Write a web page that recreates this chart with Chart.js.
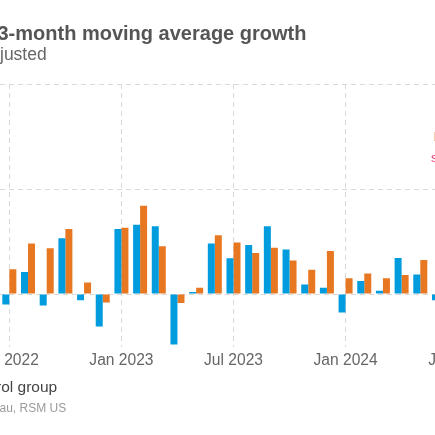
<!DOCTYPE html>
<html><head><meta charset="utf-8">
<script src="https://cdn.jsdelivr.net/npm/chart.js@4.4.1/dist/chart.umd.min.js"></script>
<style>
html,body{margin:0;padding:0;background:#fff;overflow:hidden;width:435px;height:435px;}
#wrap{position:absolute;left:-150px;top:0;width:650px;height:435px;}
</style></head><body>
<div id="wrap"><canvas id="c"></canvas></div>
<script>
const months = ['Jul 2022','Aug 2022','Sep 2022','Oct 2022','Nov 2022','Dec 2022',
  'Jan 2023','Feb 2023','Mar 2023','Apr 2023','May 2023','Jun 2023',
  'Jul 2023','Aug 2023','Sep 2023','Oct 2023','Nov 2023','Dec 2023',
  'Jan 2024','Feb 2024','Mar 2024','Apr 2024','May 2024','Jun 2024','Jul 2024'];
const retailSales = [-0.10, 0.21, -0.11, 0.53, -0.06, -0.31,
  0.62, 0.66, 0.645, -0.48, 0.02, 0.48,
  0.34, 0.467, 0.645, 0.425, 0.09, 0.06,
  -0.175, 0.124, 0.03, 0.343, 0.185, -0.06, null];
const controlGroup = [0.235, 0.48, 0.435, 0.62, 0.11, -0.08,
  0.63, 0.84, 0.455, -0.086, 0.06, 0.56,
  0.49, 0.39, 0.44, 0.32, 0.23, 0.41,
  0.15, 0.195, 0.15, 0.18, 0.325, 0.12, null];
const yTicks = [-0.5, 0, 1, 2];
const seriesNames = ['Retail sales', 'Control group'];
const seriesColors = ['#009CDE', '#E87722'];
const titleText = 'Retail sales: 3-month moving average growth';
const subtitleText = 'Seasonally adjusted';
const sourceText = 'Source: Census Bureau, RSM US';

const FONT = '"Liberation Sans", Arial, sans-serif';
const GRID = '#d9d9d9';

const decor = {
  id: 'decor',
  afterDraw(chart) {
    const ctx = chart.ctx;
    const L = chart.chartArea.left;
    ctx.save();
    ctx.textBaseline = 'alphabetic';
    ctx.textAlign = 'left';
    const txt = (str, visible, x, y, font, color) => {
      ctx.font = font; ctx.fillStyle = color;
      const cut = str.indexOf(visible);
      const w = ctx.measureText(str.slice(0, cut)).width;
      ctx.fillText(str, L + x - w, y);
    };
    txt(titleText, '3-month', -2.5, 40, 'bold 20px ' + FONT, '#555555');
    txt(subtitleText, 'justed', 0, 60, '17.5px ' + FONT, '#666666');
    txt(sourceText, 'au, RSM', -0.5, 412, '12px ' + FONT, '#9a9a9a');
    // legend (symbols sit left of the visible window)
    ctx.font = '15.5px ' + FONT;
    const ds = chart.data.datasets;
    const last = ds[ds.length - 1].label;
    let textX = L - 4 - ctx.measureText(last.slice(0, last.indexOf('rol'))).width;
    for (let i = ds.length - 1; i >= 0; i--) {
      ctx.fillStyle = '#444444';
      ctx.fillText(ds[i].label, textX, 392);
      ctx.fillStyle = ds[i].backgroundColor;
      ctx.fillRect(textX - 18, 380, 12, 12);
      if (i > 0) textX = textX - 40 - ctx.measureText(ds[i - 1].label).width;
    }
    // right-edge annotations (mostly outside the view)
    ctx.font = '12px ' + FONT;
    ctx.fillStyle = '#f3b888';
    ctx.fillText('l', L + 433.6, 141);
    ctx.font = '13px ' + FONT;
    ctx.fillStyle = '#e4356f';
    ctx.fillText('s', L + 431, 162);
    ctx.restore();
  }
};

new Chart(document.getElementById('c'), {
  type: 'bar',
  data: {
    labels: months,
    datasets: [
      { label: seriesNames[0], data: retailSales, backgroundColor: seriesColors[0], borderWidth: 0, barPercentage: 1, categoryPercentage: 0.75 },
      { label: seriesNames[1], data: controlGroup, backgroundColor: seriesColors[1], borderWidth: 0, barPercentage: 1, categoryPercentage: 0.75 }
    ]
  },
  options: {
    responsive: true,
    maintainAspectRatio: false,
    animation: false,
    layout: { padding: { top: 84, right: 33, bottom: 0, left: 0 } },
    plugins: { legend: { display: false }, tooltip: { enabled: false }, title: { display: false } },
    scales: {
      x: {
        offset: true,
        grid: {
          offset: false,
          drawTicks: false,
          lineWidth: 1,
          color: c => (c.tick && /^(Jan|Jul)/.test(months[c.index])) ? GRID : 'rgba(0,0,0,0)'
        },
        border: { display: false, dash: [5, 4] },
        ticks: {
          autoSkip: false, maxRotation: 0, minRotation: 0, padding: 5,
          color: '#666666', font: { family: FONT, size: 15.6 },
          callback: (v, i) => /^(Jan|Jul)/.test(months[i]) ? months[i] : ''
        },
        afterFit: s => { s.height = 88.5; }
      },
      y: {
        min: -0.5, max: 2,
        afterBuildTicks: s => { s.ticks = yTicks.map(v => ({ value: v })); },
        grid: {
          drawTicks: false,
          color: c => (c.tick && c.tick.value === -0.5) ? 'rgba(0,0,0,0)' : GRID
        },
        border: { display: false, dash: [5, 4] },
        ticks: { color: '#666666', font: { family: FONT, size: 15 }, padding: 10,
          callback: v => v.toFixed(1) + '%' },
        afterFit: s => { s.width = 150; }
      }
    }
  },
  plugins: [decor]
});
</script>
</body></html>
